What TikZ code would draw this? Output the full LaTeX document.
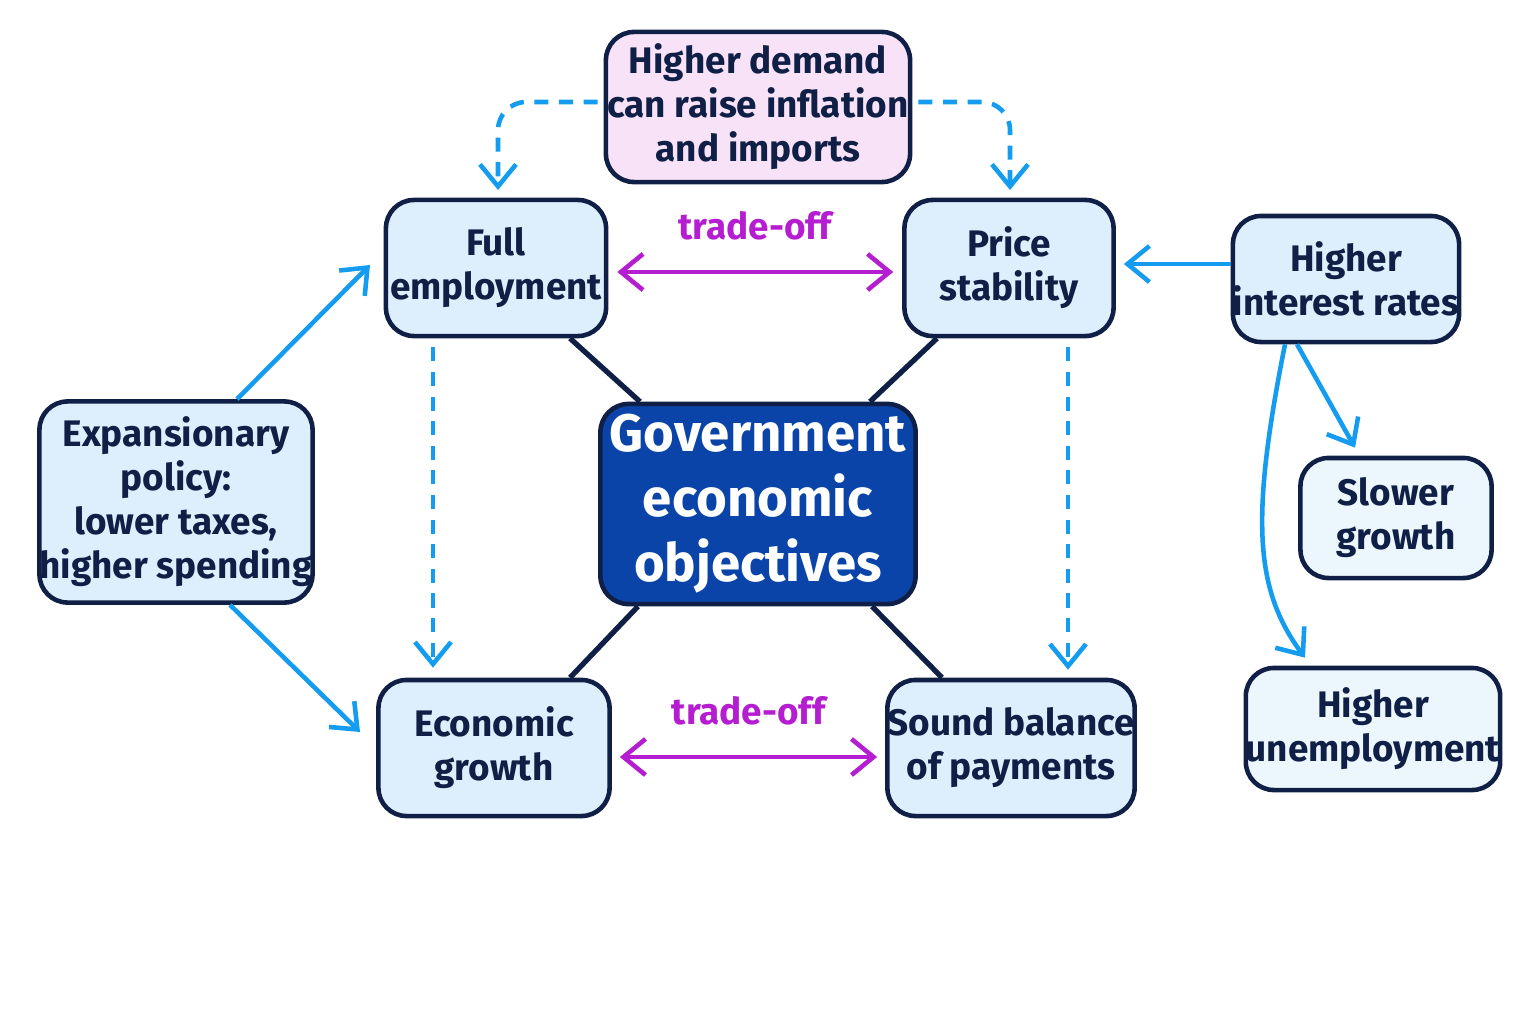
\documentclass[tikz,border=0pt]{standalone}
\usepackage{fontspec}
\setmainfont{Fira Sans}
\usetikzlibrary{arrows.meta,calc}
\definecolor{boxfill}{HTML}{DDEEFC}
\definecolor{boxline}{HTML}{0F1F45}
\definecolor{pinkfill}{HTML}{F8E2F8}
\definecolor{coreblue}{HTML}{0B44A8}
\definecolor{linkblue}{HTML}{139CF0}
\definecolor{tradeoff}{HTML}{B51ED0}
\begin{document}
\begin{tikzpicture}[x=0.01cm,y=-0.01cm,>={Straight Barb[length=2.2mm,width=3.6mm]}]
\tikzstyle{box} = [draw=boxline, line width=1.3pt, rounded corners=8pt, fill=boxfill, align=center, text=boxline, font=\fontsize{10.5}{12.5}\selectfont\bfseries, inner sep=0pt]
\tikzstyle{pale} = [box, fill=boxfill!55]
\tikzstyle{spoke} = [draw=boxline, line width=1.5pt]
\tikzstyle{push} = [draw=linkblue, line width=1.3pt, ->]
\tikzstyle{hint} = [push, dashed, dash pattern=on 4pt off 3pt, rounded corners=8pt]
\tikzstyle{trade} = [draw=tradeoff, line width=1.3pt, <->]
\useasboundingbox (0,0) rectangle (1536,1024);

    \node [box, fill=pinkfill, minimum width=3.04cm, minimum height=1.5cm] (demand) at (758,107) {Higher demand\\can raise inflation\\and imports};
    \node [box, minimum width=2.2cm, minimum height=1.36cm] (employ) at (496,268) {Full\\employment};
    \node [box, minimum width=2.09cm, minimum height=1.36cm] (prices) at (1009,268) {Price\\stability};
    \node [box, fill=coreblue, text=white, minimum width=3.15cm, minimum height=2cm, font=\fontsize{15}{18.5}\selectfont\bfseries] (core) at (758,504) {Government\\economic\\objectives};
    \node [box, minimum width=2.31cm, minimum height=1.36cm] (growth) at (494,748) {Economic\\growth};
    \node [box, minimum width=2.35cm, minimum height=1.36cm] (balance) at (1011,748) {Sound balance\\of payments};
    \node [box, minimum width=2.51cm, minimum height=2.01cm] (expand) at (176,502) {Expansionary\\policy:\\lower taxes,\\higher spending};
    \node [box, minimum width=2.15cm, minimum height=1.26cm] (rates) at (1346,279) {Higher\\interest rates};
    \node [pale, minimum width=1.91cm, minimum height=1.2cm] (slow) at (1396,518) {Slower\\growth};
    \node [pale, minimum width=2.32cm, minimum height=1.22cm] (jobless) at (1373,729) {Higher\\unemployment};

    % spokes from the core
    \draw [spoke] (core.north west -| 640,0) -- (employ.south east -| 570,0);
    \draw [spoke] (core.north east -| 870,0) -- (prices.south west -| 937,0);
    \draw [spoke] (core.south west -| 638,0) -- (growth.north east -| 570,0);
    \draw [spoke] (core.south east -| 872,0) -- (balance.north west -| 942,0);

    \draw [trade] ($(employ.east |- 0,272)+(9,0)$) -- node[above=5pt, font=\fontsize{10.5}{12}\selectfont\bfseries, text=tradeoff] {trade-off} ($(prices.west |- 0,272)+(-9,0)$);
    \draw [trade] ($(growth.east |- 0,757)+(8,0)$) -- node[above=5pt, font=\fontsize{10.5}{12}\selectfont\bfseries, text=tradeoff] {trade-off} ($(balance.west |- 0,757)+(-8,0)$);

    \draw [hint] ($(demand.west |- 0,102)+(-6,0)$) -| ($(employ.north |- 0,190)+(2,0)$);
    \draw [hint] ($(demand.east |- 0,102)+(6,0)$) -| ($(prices.north |- 0,190)+(1,0)$);
    \draw [hint] ($(employ.south -| 433,0)+(0,9)$) -- ($(growth.north -| 433,0)+(0,-10)$);
    \draw [hint] ($(prices.south -| 1068,0)+(0,9)$) -- ($(balance.north -| 1068,0)+(0,-8)$);

    \draw [push] (expand.north -| 237,0) -- (370,265);
    \draw [push] (expand.south -| 230,0) -- (360,732);
    \draw [push] (rates.west |- 0,264) -- ($(prices.east |- 0,264)+(8,0)$);
    \draw [push] (rates.south -| 1297,0) -- ($(slow.north)+(-41,-8)$);
    \draw [push] (rates.south -| 1285,0) .. controls (1250,520) and (1255,590) .. ($(jobless.north)+(-68,-8)$);
\end{tikzpicture}
\end{document}
